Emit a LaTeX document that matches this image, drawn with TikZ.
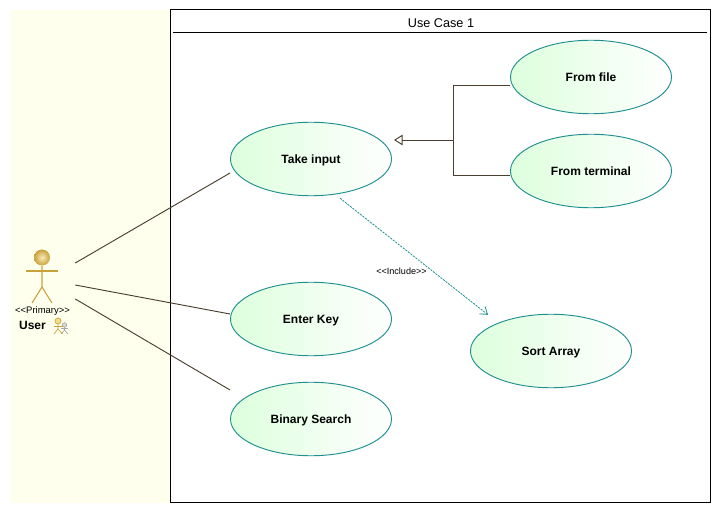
\documentclass[tikz,border=0pt]{standalone}
\usepackage{fontspec}
\setmainfont{Liberation Sans}
\usetikzlibrary{shapes.geometric,arrows.meta}
\definecolor{areafill}{HTML}{FFFFEE}
\definecolor{caseline}{HTML}{1F8F8F}
\definecolor{casefill}{HTML}{DDFFDD}
\definecolor{linkline}{HTML}{4A3F2F}
\definecolor{actorline}{HTML}{C9A13B}
\definecolor{actorhead}{HTML}{F5DC8C}
\begin{document}
\begin{tikzpicture}[x=0.75pt,y=-0.75pt]
	% size of each node
	\def\px{0.75pt}
	\def\casewidth{161*\px}
	\def\caseheight{73.5*\px}
	% node style definition
	\tikzstyle{usecase} = [draw=caseline, line width=0.7pt, ellipse, left color=casefill, right color=white, minimum width=\casewidth, minimum height=\caseheight, inner sep=0pt, text height=8pt, text depth=1pt, font=\fontsize{9}{11}\selectfont\bfseries];
	\tikzstyle{link} = [draw=linkline, line width=0.7pt];
	\tikzstyle{inclink} = [draw=caseline, line width=0.6pt, dash pattern=on 1.6pt off 0.8pt];
	\tikzstyle{actor} = [draw=actorline, line width=0.8pt];
	\tikzstyle{smallactor} = [draw=actorline, line width=0.5pt];
	\tikzstyle{smallgrey} = [draw=gray!70, line width=0.5pt];
	\tikzstyle{plain} = [draw=none, fill=none, inner sep=0pt];
	\useasboundingbox (0,0) rectangle (721,513);
	\fill[white] (0,0) rectangle (721,513);
	\node[plain, fill=areafill, minimum width=160*\px, minimum height=493*\px] (actorarea) at (90,256.5) {};
	\node[draw=black, fill=white, line width=0.75pt, minimum width=540*\px, minimum height=492*\px, inner sep=0pt] (system) at (440,256) {};
	\node[plain, font=\fontsize{9.5}{11}\selectfont] (systitle) at (441,23) {Use Case 1};
	\coordinate (titleleft) at (173,33);
	\coordinate (titleright) at (707,33);
	\draw[black, line width=0.75pt] (titleleft) -- (titleright);
	% use cases
	\node[usecase] (takeinput) at (311,159) { Take input };
	\node[usecase] (enterkey) at (311,319) { Enter Key };
	\node[usecase] (binsearch) at (311,419) { Binary Search };
	\node[usecase] (fromfile) at (591,77) { From file };
	\node[usecase] (fromterm) at (591,171) { From terminal };
	\node[usecase] (sortarray) at (551,351) { Sort Array };
	% actor
	\node[plain, minimum width=66*\px, minimum height=80*\px] (user) at (42,281) {};
	\shade[inner color=actorhead!60!white, outer color=actorline] (42,257.5) circle (8*\px);
	\draw[actor] (26,271) -- (58,271);
	\draw[actor] (42,266) -- (42,287) -- (32,303);
	\draw[actor] (42,287) -- (52,303);
	\node[plain, font=\fontsize{7.1}{8}\selectfont] (primary) at (42.5,311) {{<}{<}Primary{>}{>}};
	\node[plain, font=\fontsize{9}{11}\selectfont\bfseries] (username) at (32.5,325) {User};
	% small icon next to the name
	\draw[smallgrey] (64.5,327) -- (64.5,330) -- (61,334);
	\draw[smallgrey] (64.5,330) -- (68,334);
	\draw[smallgrey] (61,328.5) -- (68,328.5);
	\draw[smallgrey, fill=gray!30] (64.5,325) circle (2.3*\px);
	\draw[smallactor] (58,324) -- (58,329) -- (54,334);
	\draw[smallactor] (58,329) -- (62.5,334);
	\draw[smallactor] (54,326) -- (62.5,326);
	\draw[smallactor, fill=actorhead] (58,321) circle (3*\px);
	% actor to use cases
	\draw[link] ([yshift=13.5pt]user.east) -- ([yshift=-10.5pt]takeinput.west);
	\draw[link] ([yshift=-3pt]user.east) -- ([yshift=3.75pt]enterkey.west);
	\draw[link] ([yshift=-13.5pt]user.east) -- ([yshift=21.75pt]binsearch.west);
	% generalisation
	\coordinate (genjoint) at (453,140);
	\draw[link] ([yshift=-6pt]fromfile.west) -| (genjoint);
	\draw[link] ([yshift=-3pt]fromterm.west) -| (genjoint);
	\draw[link, -{Triangle[open, length=6.5pt, width=8pt, fill=white]}] (genjoint) -- ([xshift=1.5pt,yshift=14.25pt]takeinput.east);
	% include
	\draw[inclink, -{Straight Barb[length=5pt, width=7pt]}] ([xshift=21.75pt,yshift=-1.5pt]takeinput.south) -- ([xshift=-47.25pt,yshift=-0.75pt]sortarray.north);
	\node[plain, font=\fontsize{6.8}{8}\selectfont] (inclabel) at (401.5,271) {{<}{<}Include{>}{>}};
\end{tikzpicture}
\end{document}
